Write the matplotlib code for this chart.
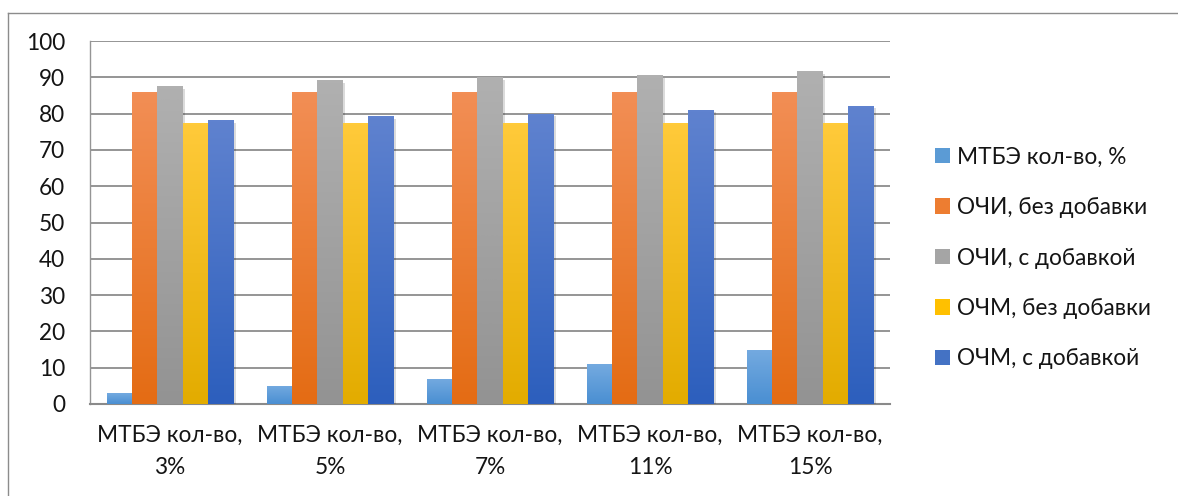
import numpy as np
import matplotlib
matplotlib.use("Agg")
import matplotlib.pyplot as plt
import matplotlib.patheffects as pe
from matplotlib.colors import LinearSegmentedColormap
from matplotlib.lines import Line2D
from matplotlib.patches import Patch

categories = ["МТБЭ кол-во,\n3%", "МТБЭ кол-во,\n5%", "МТБЭ кол-во,\n7%",
              "МТБЭ кол-во,\n11%", "МТБЭ кол-во,\n15%"]
series_names = ["МТБЭ кол-во, %", "ОЧИ, без добавки", "ОЧИ, с добавкой",
                "ОЧМ, без добавки", "ОЧМ, с добавкой"]
mtbe = [3, 5, 7, 11, 15]
ochi_without = [86, 86, 86, 86, 86]
ochi_with = [87.5, 89.2, 90, 90.6, 91.8]
ochm_without = [77.5, 77.5, 77.5, 77.5, 77.5]
ochm_with = [78.3, 79.4, 80, 81.1, 82.2]
series = [mtbe, ochi_without, ochi_with, ochm_without, ochm_with]

# (top colour, bottom colour) for the gradients
grads = [("#74aae0", "#4a8fd2"),
         ("#f28e55", "#e46c14"),
         ("#b0b0b0", "#939393"),
         ("#ffca3a", "#e3ac00"),
         ("#5f82cf", "#2d5fbd")]
legend_cols = ["#5b9bd5", "#ed7d31", "#a5a5a5", "#ffc000", "#4472c4"]

FS = 16.3
TXT = "#141414"
plt.rcParams['font.family'] = ['Lato', 'DejaVu Sans']
fig = plt.figure(figsize=(11.78, 4.96), dpi=100)
ax = fig.add_axes([90/1178, 1-404/496, 800/1178, 363/496])

# outer chart border (top and left edges visible)
W, H = 1178, 496
fig.lines.append(Line2D([8/W, 1.0], [1-12.5/H, 1-12.5/H], transform=fig.transFigure,
                        color="#8c8c8c", linewidth=1.0))
fig.lines.append(Line2D([8/W, 8/W], [0.0, 1-12.5/H], transform=fig.transFigure,
                        color="#8c8c8c", linewidth=1.0))

x = np.arange(len(categories))
w = 0.157
offsets = (np.arange(5) - 2) * w
for i, vals in enumerate(series):
    top, bot = grads[i]
    bars = ax.bar(x + offsets[i], vals, width=w, color=bot, label=series_names[i], zorder=3,
                  path_effects=[pe.SimplePatchShadow(offset=(2, -2), shadow_rgbFace="#000000", alpha=0.14),
                                pe.Normal()])
    cmap = LinearSegmentedColormap.from_list("g%d" % i, [bot, top])
    grad = np.linspace(0, 1, 64).reshape(-1, 1)
    for b in bars:
        im = ax.imshow(grad, cmap=cmap, aspect='auto', origin='lower',
                       extent=[b.get_x(), b.get_x() + b.get_width(), 0, b.get_height()],
                       zorder=4, interpolation='bicubic')
        im.set_clip_path(b)

ax.set_xlim(-0.5, len(categories) - 0.5)
ax.set_ylim(0, 100)
ax.set_yticks(np.arange(0, 101, 10))
ax.set_xticks(x)
ax.set_xticklabels(categories, fontsize=FS, color=TXT, linespacing=1.65)
ax.tick_params(axis='y', length=0, pad=18, labelsize=FS, labelcolor=TXT)
ax.tick_params(axis='x', length=0, pad=15)
ax.grid(axis='y', color="#959595", linewidth=1.4, zorder=0)
ax.set_axisbelow(True)
for s in ['top', 'right']:
    ax.spines[s].set_visible(False)
ax.spines['left'].set_color("#959595")
ax.spines['left'].set_linewidth(1.0)
ax.spines['bottom'].set_color("#8a8a8a")
ax.spines['bottom'].set_linewidth(1.5)

handles = [Patch(facecolor=legend_cols[i], edgecolor='none') for i in range(5)]
leg = ax.legend(handles, series_names, loc='center left', bbox_to_anchor=((935-90)/800, 0.402),
                frameon=False, fontsize=FS, handlelength=0.67, handleheight=0.67,
                handletextpad=0.32, labelspacing=1.3, borderaxespad=0, borderpad=0)
for t in leg.get_texts():
    t.set_color(TXT)

fig.savefig("out.png", dpi=100)
